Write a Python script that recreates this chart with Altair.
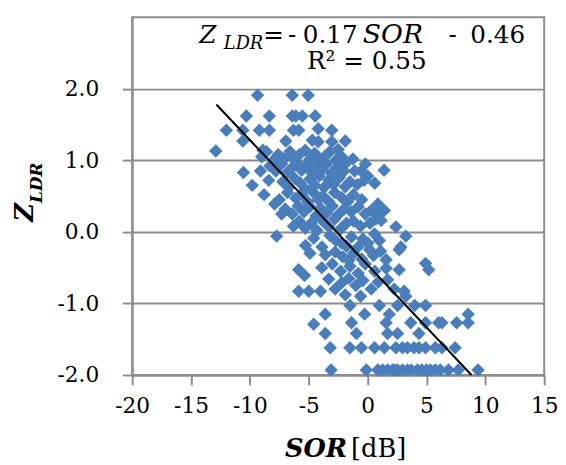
import altair as alt
import pandas as pd

# Scatter data (SOR [dB], Z_LDR)
sor = [
    -9.35, -6.4, -5.05,
    -10.3, -8.35, -6.4, -6.1, -5.55, -4.45,
    -12.0, -10.6, -9.2, -8.35, -6.3, -5.85, -4.2, -3.05,
    -10.6, -6.95, -4.7, -4.2, -3.05, -1.9,
    -12.9, -8.9, -2.5,
    -9.0, -8.6, -8.0, -7.6, -7.1, -6.6, -6.2, -5.8, -5.3, -4.9, -4.5, -4.0, -3.6, -3.2, -2.7, -2.2, -1.25, -1.9,
    -10.55, -9.1, -8.3, -7.8, -7.3, -6.9, -6.4, -6.0, -5.6, -5.2, -4.8, -4.4, -3.9, -3.5, -3.1, -2.6, -2.0, -1.1, -0.55, 1.4, -0.2, 0.0,
    -9.8, -8.4, -7.2, -6.7, -6.2, -5.7, -5.3, -4.9, -4.5, -4.1, -3.7, -3.3, -2.9, -2.4, -1.9, -1.5, -0.9, -0.3, 0.6,
    -8.8, -7.5, -6.8, -6.1, -5.6, -5.1, -4.6, -4.2, -3.8, -3.3, -2.8, -2.2, -1.7, -1.2, -0.5, 0.87,
    -7.9, -7.3, -7.0, -6.4, -5.9, -5.4, -4.9, -4.4, -4.0, -3.5, -3.0, -2.5, -2.0, -1.4, -0.8, -0.2, 0.3, 1.42, 0.9,
    -6.3, -5.8, -5.3, -4.8, -4.3, -3.8, -3.3, -2.8, -2.3, -1.8, -1.2, -0.6, 0.2, 1.15, 2.4, 0.7,
    -7.73, -5.28, -4.58, -3.88, -3.2, -2.2, -1.37, -0.81, 0.03, 0.59, 3.24, 2.82, -2.7, -1.8, -0.4, 1.0,
    -3.6, -2.76, 0.17, 2.68, -4.9, -2.1, -1.2, -0.5, 0.5, 1.57, 1.1, -1.6,
    1.57, 2.68, 4.92, 5.19, -5.86, -5.36, -3.9, -3.0, -2.3, -1.5, -0.8, -0.2, 0.6,
    1.7, 2.26, 3.1, 3.24, -5.86, -5.0, -4.0, -2.76, -2.2, -1.6, -1.0, -0.4, 0.3, 0.9, -3.3, -1.9, -0.6,
    4.0, 4.92, 2.54, 1.84, 1.0, -0.25, -1.5, -3.6, 8.54,
    -4.58, -1.37, 1.57, 3.66, 4.92, 6.03, 6.31, 7.56, 8.54,
    -3.6, -0.95, 1.7, 2.54, 4.36,
    -3.18, -1.51, -0.53, 0.59, 1.42, 2.4, 2.96, 3.38, 3.94, 4.36, 4.92, 5.75, 6.31, 7.43,
    -3.1, -0.11, 0.87, 1.28, 1.7, 2.12, 2.54, 2.96, 3.38, 4.22, 5.33, 5.75, 6.17, 6.87, 7.7, 9.38,
    2.3, 3.7, 4.6, 5.0,
]
zldr = [
    1.91, 1.91, 1.91,
    1.62, 1.62, 1.62, 1.62, 1.62, 1.62,
    1.42, 1.42, 1.42, 1.42, 1.42, 1.42, 1.44, 1.42,
    1.27, 1.27, 1.28, 1.26, 1.26, 1.27,
    1.13, 1.14, 1.15,
    1.05, 1.12, 1.0, 1.08, 1.02, 1.12, 1.0, 1.08, 1.14, 1.02, 1.1, 1.0, 1.06, 1.12, 1.0, 1.05, 1.02, 0.95,
    0.83, 0.85, 0.92, 0.85, 0.95, 0.82, 0.9, 0.97, 0.86, 0.93, 0.84, 0.92, 0.87, 0.95, 0.82, 0.9, 0.85, 0.85, 0.85, 0.86, 0.95, 0.78,
    0.65, 0.72, 0.7, 0.62, 0.75, 0.68, 0.6, 0.74, 0.65, 0.78, 0.62, 0.72, 0.66, 0.76, 0.63, 0.7, 0.66, 0.72, 0.68,
    0.52, 0.45, 0.55, 0.47, 0.52, 0.42, 0.55, 0.45, 0.5, 0.42, 0.55, 0.48, 0.42, 0.52, 0.45, 0.39,
    0.39, 0.25, 0.32, 0.25, 0.36, 0.28, 0.35, 0.22, 0.33, 0.26, 0.36, 0.24, 0.32, 0.28, 0.35, 0.25, 0.3, 0.3, 0.22,
    0.08, 0.15, 0.05, 0.12, 0.02, 0.15, 0.07, 0.18, 0.04, 0.12, 0.15, 0.08, 0.12, 0.16, 0.07, 0.18,
    -0.06, -0.19, -0.09, -0.21, -0.05, -0.16, -0.07, -0.21, -0.16, -0.03, -0.06, -0.21, -0.12, -0.2, -0.1, -0.12,
    -0.32, -0.28, -0.25, -0.25, -0.3, -0.35, -0.3, -0.38, -0.33, -0.39, -0.27, -0.4,
    -0.51, -0.53, -0.44, -0.53, -0.53, -0.61, -0.5, -0.45, -0.55, -0.48, -0.58, -0.45, -0.55,
    -0.67, -0.8, -0.83, -0.9, -0.83, -0.83, -0.83, -0.8, -0.71, -0.65, -0.75, -0.68, -0.8, -0.7, -0.66, -0.88, -0.9,
    -1.03, -1.03, -1.03, -1.15, -1.03, -1.15, -1.03, -1.15, -1.15,
    -1.29, -1.27, -1.27, -1.27, -1.27, -1.27, -1.27, -1.27, -1.27,
    -1.42, -1.42, -1.42, -1.42, -1.42,
    -1.62, -1.62, -1.62, -1.62, -1.62, -1.62, -1.62, -1.62, -1.62, -1.62, -1.62, -1.62, -1.62, -1.62,
    -1.93, -1.93, -1.93, -1.93, -1.93, -1.93, -1.93, -1.93, -1.93, -1.93, -1.93, -1.93, -1.93, -1.93, -1.93, -1.93,
    -1.93, -1.93, -1.93, -1.93,
]

# Regression line endpoints (Z = -0.17 SOR - 0.46)
line_sor = [-12.85, 8.82]
line_z = [1.78, -2.0]

x_ticks = [-20, -15, -10, -5, 0, 5, 10, 15]
y_ticks = [-2, -1, 0, 1, 2]

pts = pd.DataFrame({"sor": sor, "z": zldr})
ln = pd.DataFrame({"sor": line_sor, "z": line_z})

GRAY = "#8c8c8c"
FONT = "DejaVu Serif"

xscale = alt.Scale(domain=[-20, 15], nice=False, zero=False)
yscale = alt.Scale(domain=[-2, 3], nice=False, zero=False)

xaxis = alt.Axis(values=x_ticks, grid=False, title=None, tickSize=10, tickColor=GRAY,
                 tickWidth=2, domainColor=GRAY, domainWidth=2,
                 labelFlush=False, labelOverlap=False,
                 labelFont=FONT, labelFontSize=22, labelColor="black", labelPadding=11,
                 labelExpr="(datum.value < 0 ? '-' : '') + format(abs(datum.value), 'd')")
yaxis = alt.Axis(values=y_ticks, grid=True, gridColor=GRAY, gridWidth=2, title=None,
                 tickSize=10, tickColor=GRAY, tickWidth=2, domainColor=GRAY, domainWidth=2,
                 labelFlush=False, labelOverlap=False,
                 labelFont=FONT, labelFontSize=22, labelColor="black", labelPadding=24,
                 labelExpr="(datum.value < 0 ? '-' : '') + format(abs(datum.value), '.1f')")

points = alt.Chart(pts).mark_point(shape="diamond", filled=True, size=185,
                                   color="#4a7ebb", opacity=1).encode(
    x=alt.X("sor:Q", scale=xscale, axis=xaxis),
    y=alt.Y("z:Q", scale=yscale, axis=yaxis),
)

line = alt.Chart(ln).mark_line(color="black", strokeWidth=2).encode(
    x=alt.X("sor:Q", scale=xscale),
    y=alt.Y("z:Q", scale=yscale),
)


def txt(s, x, y, size, style="normal", weight="normal", align="left",
        baseline="alphabetic", angle=0):
    return alt.Chart(pd.DataFrame({"t": [s]})).mark_text(
        font=FONT, fontSize=size, fontStyle=style, fontWeight=weight,
        align=align, baseline=baseline, angle=angle, color="black"
    ).encode(text="t:N", x=alt.value(x), y=alt.value(y))


annots = [
    # equation
    txt("Z", 68, 26, 25, style="italic"),
    txt("LDR", 93, 32, 18, style="italic"),
    txt("=", 133, 26, 25),
    txt("-", 158, 26, 25),
    txt("0.17", 173, 26, 25),
    txt("SOR", 234, 26, 27, style="italic"),
    txt("-", 321, 26, 25),
    txt("0.46", 343, 26, 25),
    txt("R² = 0.55", 238, 53, 25, align="center"),
    # y title
    txt("Z", -109, 198, 26, style="italic", weight="bold", align="center",
        baseline="middle", angle=270),
    txt("LDR", -97, 168, 17, style="italic", weight="bold", align="center",
        baseline="middle", angle=270),
    # x title
    txt("SOR", 218, 446, 26, style="italic", weight="bold", align="right"),
    txt("[dB]", 222, 446, 26),
]

chart = alt.layer(points, line, *annots).properties(
    width=418, height=363,
    autosize=alt.AutoSizeParams(type="none"),
    padding={"left": 126, "top": 6, "right": 14, "bottom": 88},
).configure_view(stroke=GRAY, strokeWidth=2)

chart.save("out.html", embed_options={"renderer": "svg", "actions": False})
